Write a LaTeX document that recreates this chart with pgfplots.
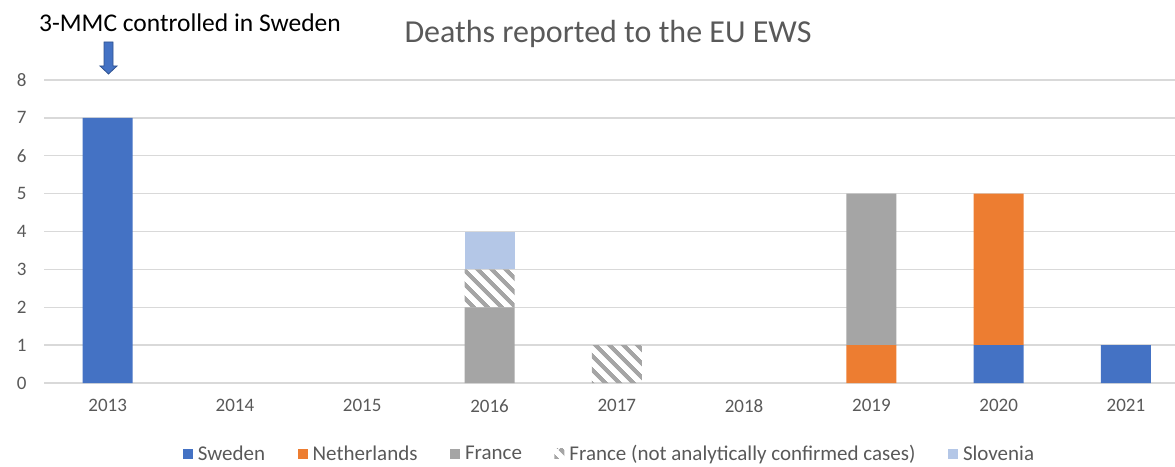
\documentclass[border=0pt]{standalone}
\usepackage{pgfplots}
\pgfplotsset{compat=1.18}
\usepackage{fontspec}
\setmainfont{Carlito}
\usetikzlibrary{patterns.meta}
\definecolor{cSwe}{HTML}{4472C4}
\definecolor{cNed}{HTML}{ED7D31}
\definecolor{cFra}{HTML}{A5A5A5}
\definecolor{cSlo}{HTML}{B4C7E7}
\definecolor{cTxt}{HTML}{595959}
\definecolor{cGrid}{HTML}{D9D9D9}
\definecolor{cArrB}{HTML}{2F528F}
\begin{document}
\begin{tikzpicture}
\path[use as bounding box] (0,0) rectangle (1175pt,466pt);
\begin{axis}[
  at={(44pt,83pt)}, anchor=south west,
  scale only axis, width=1131pt, height=303pt,
  xmin=-0.5, xmax=8.385, ymin=0, ymax=8,
  ybar stacked, bar width=50pt,
  xtick={0,...,8},
  xticklabels={2013,2014,2015,2016,2017,2018,2019,2020,2021},
  ytick={0,...,8},
  ymajorgrids, grid style={cGrid, line width=1.3pt},
  axis line style={draw=none}, major tick length=0pt,
  /pgf/number format/assume math mode=true,
  ticklabel style={font=\fontsize{19}{22}\selectfont, text=cTxt},
  yticklabel style={xshift=-14pt},
  xticklabel style={yshift=-13pt},
  legend style={draw=none, fill=none, at={(0.5,-0.233)}, anchor=center,
    legend columns=-1, font=\fontsize{21}{24}\selectfont, text=cTxt,
    inner sep=0pt,
    /tikz/every odd column/.append style={column sep=3pt},
    /tikz/every even column/.append style={column sep=30.5pt}},
  legend image code/.code={\path[#1, draw=none] (0pt,-5pt) rectangle (10pt,5pt);},
]
\addplot[fill=cSwe, draw=none] coordinates {(0,7) (1,0) (2,0) (3,0) (4,0) (5,0) (6,0) (7,1) (8,1)};
\addplot[fill=cNed, draw=none] coordinates {(0,0) (1,0) (2,0) (3,0) (4,0) (5,0) (6,1) (7,4) (8,0)};
\addplot[fill=cFra, draw=none] coordinates {(0,0) (1,0) (2,0) (3,2) (4,0) (5,0) (6,4) (7,0) (8,0)};
\addplot[draw=none, pattern={Lines[angle=-45,distance=10.5pt,line width=4.5pt]}, pattern color=cFra] coordinates {(0,0) (1,0) (2,0) (3,1) (4,1) (5,0) (6,0) (7,0) (8,0)};
\addplot[fill=cSlo, draw=none] coordinates {(0,0) (1,0) (2,0) (3,1) (4,0) (5,0) (6,0) (7,0) (8,0)};
\legend{Sweden, Netherlands, France, France (not analytically confirmed cases), Slovenia}
\end{axis}
\node[font=\fontsize{32}{36}\selectfont, text=cTxt] at (608pt,432pt) {Deaths reported to the EU EWS};
\node[font=\fontsize{25.5}{29}\selectfont, anchor=west, inner sep=0pt] at (39pt,443pt) {3-MMC controlled in Sweden};
\filldraw[fill=cSwe, draw=cArrB, line width=0.8pt]
  (104pt,424pt) -- (113pt,424pt) -- (113pt,400pt) -- (117pt,400pt) -- (108.5pt,392pt) -- (100pt,400pt) -- (104pt,400pt) -- cycle;
\end{tikzpicture}
\end{document}
